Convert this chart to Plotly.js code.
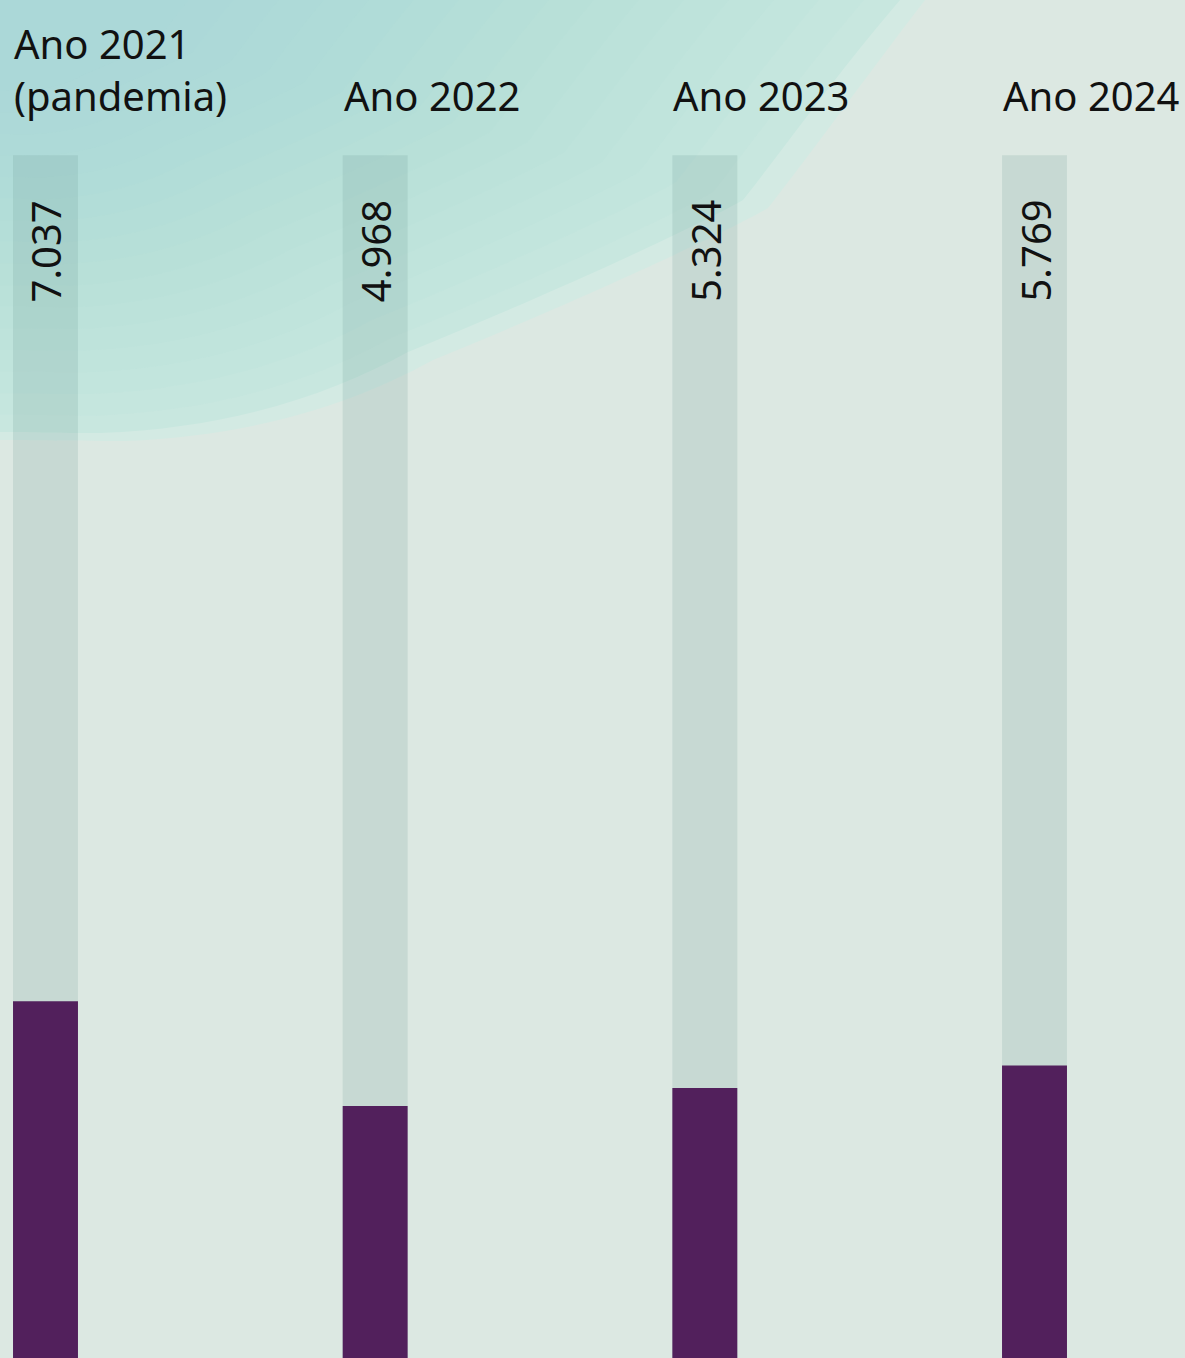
<!DOCTYPE html>
<html>
<head>
<meta charset="utf-8">
<script src="https://cdn.plot.ly/plotly-3.0.1.min.js"></script>
<style>
  html, body { margin: 0; padding: 0; background: #DCE8E2; }
  #chart { width: 1185px; height: 1358px; }
</style>
</head>
<body>
<div id="chart"></div>
<script>
// ---- data ----
const years = ['2021', '2022', '2023', '2024'];
const headerLabels = ['Ano 2021<br>(pandemia)', 'Ano 2022', 'Ano 2023', 'Ano 2024'];
const values = [7037, 4968, 5324, 5769];
const trackMax = 23720;   // full height of the grey background track

// ---- helpers ----
const W = 1185, H = 1358;
function fmt(v) {            // Portuguese thousands separator
  return String(v).replace(/\B(?=(\d{3})+(?!\d))/g, '.');
}
// decorative blob outline (pixel coords), scaled toward the top-left corner
function blobPath(s, dx, dy) {
  dx = dx || 0; dy = dy || 0;
  const pts = [
    [0, 0], [900 + dx, 0],
    [[840 + dx, 70 + dy], [790 + dx, 140 + dy], [743 + dx, 200 + dy]],
    [[700 + dx, 225 + dy], [560 + dx, 290 + dy], [408 + dx, 352 + dy]],
    [[330 + dx, 395 + dy], [230 + dx, 428 + dy], [100 + dx, 433 + dy]],
    [[60, 433 + dy], [20, 432 + dy], [0, 432 + dy]]
  ];
  const X = p => (p[0] * s / W).toFixed(4);
  const Y = p => (1 - p[1] * s / H).toFixed(4);
  let d = `M ${X(pts[0])},${Y(pts[0])} L ${X(pts[1])},${Y(pts[1])}`;
  for (let i = 2; i < pts.length; i++) {
    const [a, b, c] = pts[i];
    d += ` C ${X(a)},${Y(a)} ${X(b)},${Y(b)} ${X(c)},${Y(c)}`;
  }
  return d + ' Z';
}

const shapes = [];
shapes.push({type: 'path', xref: 'paper', yref: 'paper', layer: 'below',
  path: blobPath(1, 25, 8), fillcolor: '#D3EAE3', line: {width: 0}});
shapes.push({type: 'path', xref: 'paper', yref: 'paper', layer: 'below',
  path: blobPath(1), fillcolor: '#C8E7DF', line: {width: 0}});
for (let k = 0; k < 16; k++) {
  const s = 0.96 - k * 0.05;
  shapes.push({type: 'path', xref: 'paper', yref: 'paper', layer: 'below',
    path: blobPath(s), fillcolor: 'rgba(152,210,208,0.05)', line: {width: 0}});
}

const barWidth = 0.197;

const traces = [
  {
    type: 'bar', x: years, y: years.map(() => trackMax),
    width: barWidth, marker: {color: 'rgba(100,150,140,0.175)', line: {width: 0}},
    hoverinfo: 'skip', showlegend: false
  },
  {
    type: 'bar', x: years, y: values,
    width: barWidth, marker: {color: '#52205C', line: {width: 0}},
    hoverinfo: 'skip', showlegend: false
  }
];

const annotations = [];
years.forEach((yr, i) => {
  annotations.push({
    xref: 'x', yref: 'paper', x: i - barWidth / 2, y: 1 - 124 / H,
    xanchor: 'left', yanchor: 'bottom', align: 'left',
    text: headerLabels[i], showarrow: false, borderpad: 0,
    font: {family: 'Noto Sans, Open Sans, sans-serif', size: 40, color: '#111111'}
  });
  annotations.push({
    xref: 'x', yref: 'paper', x: i, y: 1 - 199 / H,
    xanchor: 'center', yanchor: 'top', textangle: -90,
    text: fmt(values[i]), showarrow: false, borderpad: 0,
    font: {family: 'Noto Sans, Open Sans, sans-serif', size: 40, color: '#111111'}
  });
});

const layout = {
  width: W, height: H,
  margin: {l: 0, r: 0, t: 0, b: 0},
  paper_bgcolor: '#DCE8E2', plot_bgcolor: 'rgba(0,0,0,0)',
  barmode: 'overlay',
  xaxis: {type: 'category', range: [-0.138, 3.4565], visible: false, fixedrange: true},
  yaxis: {range: [0, 26780], visible: false, fixedrange: true},
  shapes: shapes,
  annotations: annotations,
  showlegend: false
};

Plotly.newPlot('chart', traces, layout, {staticPlot: true, displayModeBar: false});
</script>
</body>
</html>
